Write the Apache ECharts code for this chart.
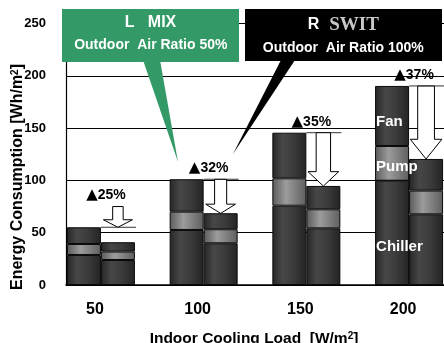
<!DOCTYPE html>
<html>
<head>
<meta charset="utf-8">
<script src="https://cdn.jsdelivr.net/npm/echarts@6/dist/echarts.min.js"></script>
<style>html,body{margin:0;padding:0;background:#fff}#c{width:444px;height:343px}</style>
</head>
<body>
<div id="c"></div>
<script>
// ---- data ----
const categories = [50, 100, 150, 200];
const lChiller = [28.7, 52.6, 75.8, 99.7];
const lPump = [10.5, 17.5, 26.2, 33.2];
const lFan = [16.0, 31.0, 43.6, 57.4];
const rChiller = [23.9, 39.9, 54.2, 67.6];
const rPump = [8.0, 13.4, 18.2, 22.6];
const rFan = [9.0, 15.3, 22.3, 30.3];
const reductionLabels = ['25%', '32%', '35%', '37%'];
const arrowStart = [75, 101, 145.6, 190.2];
const arrowEnd = [55.2, 68.5, 94.6, 120.5];
const yTicks = [0, 50, 100, 150, 200, 250];

// ---- styling ----
const FONT = 'Arial, "Liberation Sans", sans-serif';
const BAR_W = 34;
function grad(stops) {
  return {type: 'linear', x: 0, y: 0, x2: 1, y2: 0,
    colorStops: stops.map(s => ({offset: s[0], color: s[1]}))};
}
const darkFill = grad([[0, '#262626'], [0.3, '#474747'], [0.6, '#3c3c3c'], [1, '#242424']]);
const pumpFill = grad([[0, '#5a5a5a'], [0.4, '#9c9c9c'], [1, '#5e5e5e']]);

const lTotals = categories.map((c, i) => lChiller[i] + lPump[i] + lFan[i]);

// value first, category position second (so the value dimension is the stacked one)
function pairs(arr) { return categories.map((c, i) => [arr[i], c]); }

function barSeries(name, arr, stack, fill, labelOffset) {
  const data = pairs(arr).map((p, i) => {
    const item = {value: p};
    if (labelOffset !== undefined && i === categories.length - 1) {
      item.label = {show: true, position: 'insideLeft', distance: 1, offset: [0, labelOffset],
        formatter: '{a}', color: '#fff', fontFamily: FONT, fontWeight: 'bold', fontSize: 15, overflow: 'none'};
    }
    return item;
  });
  return {
    name: name, type: 'bar', stack: stack, barWidth: BAR_W, barGap: '0%',
    encode: {x: 1, y: 0},
    itemStyle: {color: fill, borderColor: '#0a0a0a', borderWidth: 1},
    data: data, z: 2
  };
}

const chart = echarts.init(document.getElementById('c'), null, {renderer: 'canvas'});

const option = {
  animation: false,
  backgroundColor: '#fff',
  grid: {left: 66, right: -2, top: 23.5, bottom: 58, containLabel: false},
  xAxis: {
    type: 'value', min: 33, max: 217,
    axisLine: {show: true, lineStyle: {color: '#000', width: 1.5}},
    axisTick: {show: false},
    splitLine: {show: false},
    axisLabel: {customValues: categories, margin: 17, padding: [0, 12, 0, 0],
      color: '#000', fontFamily: FONT, fontWeight: 'bold', fontSize: 16}
  },
  yAxis: {
    type: 'value', min: yTicks[0], max: yTicks[yTicks.length - 1], interval: 50,
    axisLine: {show: true, lineStyle: {color: '#000', width: 1.2}},
    axisTick: {show: false},
    splitLine: {show: true, lineStyle: {color: '#000', width: 1}},
    axisLabel: {margin: 20, color: '#000', fontFamily: FONT, fontWeight: 'bold', fontSize: 13}
  },
  series: [
    barSeries('Chiller', lChiller, 'L', darkFill, 14),
    barSeries('Pump', lPump, 'L', pumpFill, 4),
    barSeries('Fan', lFan, 'L', darkFill, 6),
    barSeries('R Chiller', rChiller, 'R', darkFill),
    barSeries('R Pump', rPump, 'R', pumpFill),
    barSeries('R Fan', rFan, 'R', darkFill),
    {
      type: 'custom', z: 5, clip: false,
      data: categories.map((c, i) => [c, arrowStart[i], arrowEnd[i], lTotals[i]]),
      renderItem: function (params, api) {
        const x = api.value(0);
        const pTop = api.coord([x, api.value(1)]);
        const pTip = api.coord([x, api.value(2)]);
        const pL = api.coord([x, api.value(3)]);
        const base = pTop[0];
        const cx = base + BAR_W / 2;
        const y0 = pTop[1], y1 = pTip[1];
        const len = y1 - y0;
        const hh = Math.max(7.5, len * 0.27);
        const sw = (8 + len * 0.12) / 2;
        const hw = (28 + len * 0.05) / 2;
        const i = params.dataIndex;
        return {
          type: 'group',
          children: [
            {type: 'line', shape: {x1: base, y1: pL[1], x2: base + BAR_W + 1, y2: pL[1]},
              style: {stroke: '#333', lineWidth: 1}},
            {type: 'polygon', shape: {points: [
              [cx - sw, y0], [cx + sw, y0], [cx + sw, y1 - hh], [cx + hw, y1 - hh],
              [cx, y1], [cx - hw, y1 - hh], [cx - sw, y1 - hh]]},
              style: {fill: '#fff', stroke: '#000', lineWidth: 1}},
            {type: 'text', x: base + 5, y: y0 - 11,
              style: {text: '{t|▲}{p|' + reductionLabels[i] + '}', align: 'center', verticalAlign: 'middle',
                rich: {t: {fill: '#000', fontFamily: '"DejaVu Sans", sans-serif', fontSize: 15},
                       p: {fill: '#000', fontFamily: FONT, fontWeight: 'bold', fontSize: 14}}}}
          ]
        };
      }
    }
  ],
  graphic: [
    // y axis title
    {type: 'text', x: 18, y: 177, rotation: Math.PI / 2, z: 50,
      style: {text: '{a|Energy Consumption [Wh/m}{s|2}{a|]}', align: 'center', verticalAlign: 'middle',
        rich: {a: {fontFamily: FONT, fontWeight: 'bold', fontSize: 16, fill: '#000'},
               s: {fontFamily: FONT, fontWeight: 'bold', fontSize: 10, fill: '#000', verticalAlign: 'top'}}}},
    // x axis title
    {type: 'text', x: 254, y: 339, z: 50,
      style: {text: '{a|Indoor Cooling Load  [W/m}{s|2}{a|]}', align: 'center', verticalAlign: 'middle',
        rich: {a: {fontFamily: FONT, fontWeight: 'bold', fontSize: 15.5, fill: '#000'},
               s: {fontFamily: FONT, fontWeight: 'bold', fontSize: 10, fill: '#000', verticalAlign: 'top'}}}},
    // green callout
    {type: 'polygon', z: 40, shape: {points: [[143, 60], [160, 60], [178, 162]]}, style: {fill: '#339966'}},
    {type: 'rect', z: 41, shape: {x: 62, y: 9, width: 177, height: 53}, style: {fill: '#339966'}},
    {type: 'text', z: 42, x: 150.5, y: 23,
      style: {text: 'L   MIX', align: 'center', verticalAlign: 'middle', fill: '#fff',
        fontFamily: FONT, fontWeight: 'bold', fontSize: 16}},
    {type: 'text', z: 42, x: 150.8, y: 45,
      style: {text: 'Outdoor  Air Ratio 50%', align: 'center', verticalAlign: 'middle', fill: '#fff',
        fontFamily: FONT, fontWeight: 'bold', fontSize: 14}},
    // black callout
    {type: 'polygon', z: 40, shape: {points: [[281, 60], [295, 60], [233, 154]]}, style: {fill: '#000'}},
    {type: 'rect', z: 41, shape: {x: 245, y: 9, width: 197, height: 52}, style: {fill: '#000'}},
    {type: 'text', z: 42, x: 343.3, y: 25,
      style: {text: '{r|R}   {s|SWIT}', align: 'center', verticalAlign: 'middle',
        rich: {r: {fill: '#fff', fontFamily: FONT, fontWeight: 'bold', fontSize: 16},
               s: {fill: '#c8c8c8', fontFamily: '"Liberation Serif", "Times New Roman", serif', fontWeight: 'bold', fontSize: 19}}}},
    {type: 'text', z: 42, x: 343.3, y: 48,
      style: {text: 'Outdoor  Air Ratio 100%', align: 'center', verticalAlign: 'middle', fill: '#fff',
        fontFamily: FONT, fontWeight: 'bold', fontSize: 14}}
  ]
};
chart.setOption(option);
</script>
</body>
</html>
